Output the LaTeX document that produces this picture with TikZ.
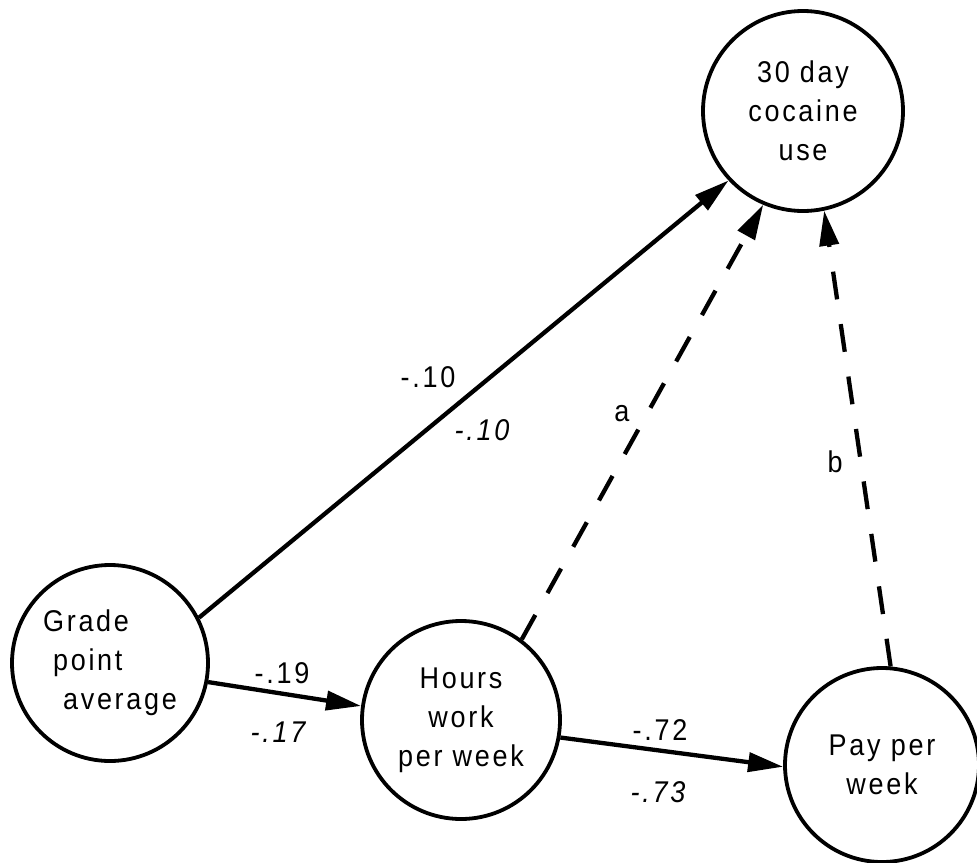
\documentclass[tikz,border=0pt]{standalone}
\usepackage{fontspec}
\setmainfont{Liberation Sans}[LetterSpace=9, FakeStretch=0.9]
\usetikzlibrary{arrows.meta}
\begin{document}
\begin{tikzpicture}[x=1pt,y=-1pt,
  var/.style={draw, circle, line width=3.8pt, inner sep=0pt, align=center,
    font=\fontsize{30}{39}\selectfont},
  effect/.style={line width=4.3pt, -{Triangle[length=35pt,width=19pt]}},
  dashedeffect/.style={effect, dash pattern=on 28pt off 25pt},
  coef/.style={font=\fontsize{30}{32}\selectfont, inner sep=0pt},
  coefit/.style={font=\fontsize{30}{32}\selectfont\itshape, inner sep=0pt}]
\useasboundingbox (0,0) rectangle (977,862);
\clip (0,0) rectangle (977,862);

% variables
\node[var, minimum size=200pt] (coc) at (803,111) {30 day\\cocaine\\use};
\node[var, minimum size=196pt, align=left] (gpa) at (110,663)
  {Grade\\\hspace*{10pt}point\\\hspace*{20pt}average};
\node[var, minimum size=198pt] (hrs) at (461,720) {Hours\\work\\per week};
\node[var, minimum size=194pt] (pay) at (882,765) {Pay per\\week};

% paths
\draw[effect] (gpa.27) -- (coc.223);
\draw[effect] (gpa.-11.5) -- (hrs.172.5);
\draw[effect] (hrs.-10.7) -- (pay.181);
\draw[dashedeffect] (hrs.53.6) -- (coc.247.6);
\draw[dashedeffect] (pay.85.4) -- (coc.282.3);

% coefficients
\node[coef] (c1) at (428,377) {-.10};
\node[coefit] (c1i) at (482,430) {-.10};
\node[coef] (c2) at (282,673) {-.19};
\node[coefit] (c2i) at (278,732) {-.17};
\node[coef] (c3) at (660,730) {-.72};
\node[coefit] (c3i) at (658,792) {-.73};
\node[coef] (la) at (622,414) {a};
\node[coef] (lb) at (835,462) {b};
\end{tikzpicture}
\end{document}
